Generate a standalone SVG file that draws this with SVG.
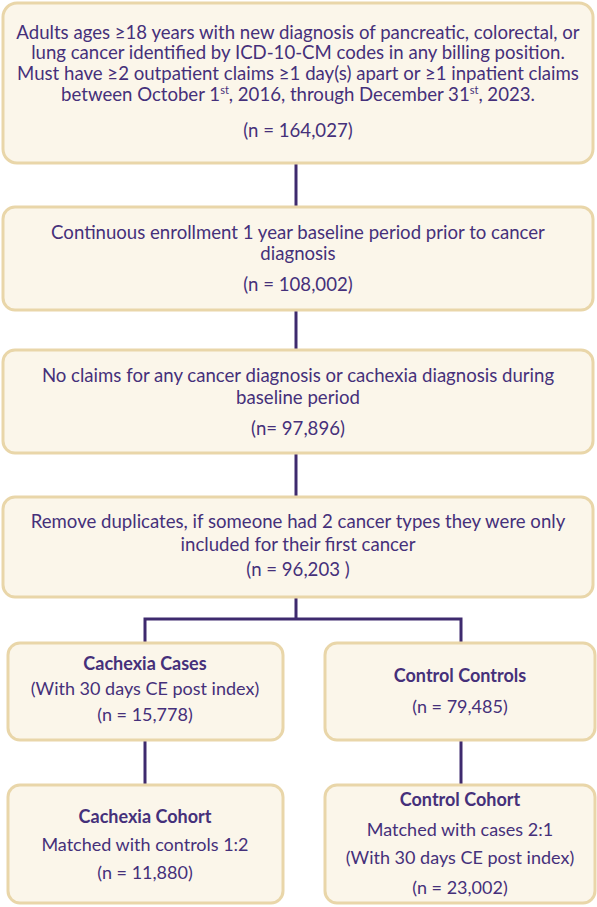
<svg xmlns="http://www.w3.org/2000/svg" width="597" height="907" viewBox="0 0 597 907">
<style>
.box{fill:#FBF6EA;stroke:#E9D6A9;stroke-width:3}
text{font-family:Lato,"Open Sans","Liberation Sans",sans-serif;font-size:18.6px;fill:#45307A;text-anchor:middle}
.s{font-size:18px}
.b{font-weight:bold}
.sup{font-size:11px}
.conn{fill:none;stroke:#3E2A6E;stroke-width:3}
</style>
<rect width="597" height="907" fill="#ffffff"/>
<g id="connectors">
<path class="conn" d="M296 163V207"/>
<path class="conn" d="M296 310V350"/>
<path class="conn" d="M296 453V497"/>
<path class="conn" d="M296 597V619M145 643V619H461V643"/>
<path class="conn" d="M145 740V785"/>
<path class="conn" d="M461 740V785"/>
</g>
<g id="n1">
<rect class="box" x="3" y="3" width="590" height="160" rx="14"/>
<text x="298" y="39">Adults ages ≥18 years with new diagnosis of pancreatic, colorectal, or</text>
<text x="298" y="59">lung cancer identified by ICD-10-CM codes in any billing position.</text>
<text x="298" y="80">Must have ≥2 outpatient claims ≥1 day(s) apart or ≥1 inpatient claims</text>
<text x="298" y="101">between October 1<tspan class="sup" dy="-7">st</tspan><tspan dy="7">, 2016, through December 31</tspan><tspan class="sup" dy="-7">st</tspan><tspan dy="7">, 2023.</tspan></text>
<text x="298" y="137">(n = 164,027)</text>
</g>
<g id="n2">
<rect class="box" x="3" y="207" width="590" height="103" rx="12"/>
<text x="298" y="239">Continuous enrollment 1 year baseline period prior to cancer</text>
<text x="298" y="260">diagnosis</text>
<text x="298" y="291">(n = 108,002)</text>
</g>
<g id="n3">
<rect class="box" x="3" y="350" width="590" height="103" rx="12"/>
<text x="298" y="382">No claims for any cancer diagnosis or cachexia diagnosis during</text>
<text x="298" y="404">baseline period</text>
<text x="298" y="435">(n= 97,896)</text>
</g>
<g id="n4">
<rect class="box" x="3" y="497" width="590" height="100" rx="12"/>
<text x="298" y="528">Remove duplicates, if someone had 2 cancer types they were only</text>
<text x="298" y="551">included for their first cancer</text>
<text x="298" y="576">(n = 96,203 )</text>
</g>
<g id="n5">
<rect class="box" x="8" y="643" width="275" height="97" rx="12"/>
<text class="b s" x="145" y="670">Cachexia Cases</text>
<text class="s" x="145" y="695">(With 30 days CE post index)</text>
<text class="s" x="145" y="721">(n = 15,778)</text>
</g>
<g id="n6">
<rect class="box" x="325" y="643" width="270" height="97" rx="12"/>
<text class="b s" x="460" y="682">Control Controls</text>
<text class="s" x="460" y="713">(n = 79,485)</text>
</g>
<g id="n7">
<rect class="box" x="8" y="785" width="275" height="118" rx="12"/>
<text class="b s" x="145" y="823">Cachexia Cohort</text>
<text class="s" x="145" y="851">Matched with controls 1:2</text>
<text class="s" x="145" y="879">(n = 11,880)</text>
</g>
<g id="n8">
<rect class="box" x="325" y="785" width="270" height="118" rx="12"/>
<text class="b s" x="460" y="806">Control Cohort</text>
<text class="s" x="460" y="836">Matched with cases 2:1</text>
<text class="s" x="460" y="864">(With 30 days CE post index)</text>
<text class="s" x="460" y="894">(n = 23,002)</text>
</g>
</svg>
